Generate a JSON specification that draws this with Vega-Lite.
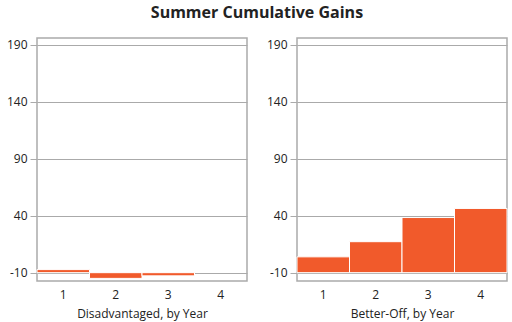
{
  "$schema": "https://vega.github.io/schema/vega-lite/v6.json",
  "padding": {"left": 5, "right": 5, "top": 5, "bottom": 3},
  "title": {"text": "Summer Cumulative Gains", "fontSize": 16, "font": "Open Sans", "fontWeight": "bold", "color": "#222", "anchor": "middle", "offset": 16},
  "datasets": {
    "gains": [
      {"group": "Disadvantaged", "year": "1", "gain": -7.3},
      {"group": "Disadvantaged", "year": "2", "gain": -15},
      {"group": "Disadvantaged", "year": "3", "gain": -12.8},
      {"group": "Better-Off", "year": "1", "gain": 3.9},
      {"group": "Better-Off", "year": "2", "gain": 17.2},
      {"group": "Better-Off", "year": "3", "gain": 38.4},
      {"group": "Better-Off", "year": "4", "gain": 46.4}
    ]
  },
  "spacing": 17,
  "hconcat": [
    {
      "width": 210, "height": 243,
      "data": {"name": "gains"},
      "transform": [{"filter": "datum.group === 'Disadvantaged'"}],
      "mark": {"type": "bar", "color": "#F15A2B", "stroke": "white", "strokeWidth": 1},
      "encoding": {
        "x": {"field": "year", "type": "ordinal", "title": "Disadvantaged, by Year", "scale": {"domain": ["1", "2", "3", "4"], "paddingInner": 0, "paddingOuter": 0}, "axis": {"labelAngle": 0, "ticks": false, "domain": false, "labelPadding": 8, "titlePadding": 8}},
        "y": {"field": "gain", "type": "quantitative", "title": null, "scale": {"domain": [-17.3, 196], "nice": false, "zero": false}, "axis": {"values": [-10, 40, 90, 140, 190], "labelExpr": "replace(datum.label, '\u2212', '-')"}},
        "y2": {"datum": -10}
      }
    },
    {
      "width": 210, "height": 243,
      "data": {"name": "gains"},
      "transform": [{"filter": "datum.group === 'Better-Off'"}],
      "mark": {"type": "bar", "color": "#F15A2B", "stroke": "white", "strokeWidth": 1},
      "encoding": {
        "x": {"field": "year", "type": "ordinal", "title": "Better-Off, by Year", "scale": {"domain": ["1", "2", "3", "4"], "paddingInner": 0, "paddingOuter": 0}, "axis": {"labelAngle": 0, "ticks": false, "domain": false, "labelPadding": 8, "titlePadding": 8}},
        "y": {"field": "gain", "type": "quantitative", "title": null, "scale": {"domain": [-17.3, 196], "nice": false, "zero": false}, "axis": {"values": [-10, 40, 90, 140, 190], "labelExpr": "replace(datum.label, '\u2212', '-')"}},
        "y2": {"datum": -10}
      }
    }
  ],
  "config": {
    "font": "Open Sans",
    "view": {"stroke": "#aaaaaa", "strokeWidth": 1.5},
    "axis": {
      "gridColor": "#aaaaaa", "gridOpacity": 1, "gridWidth": 1,
      "domainColor": "#aaaaaa", "tickColor": "#aaaaaa", "tickSize": 7,
      "labelColor": "#222222", "labelFontSize": 12, "labelFont": "Open Sans",
      "titleColor": "#222222", "titleFontSize": 12, "titleFontWeight": "normal", "titleFont": "Open Sans"
    },
    "axisY": {"domain": false, "labelPadding": 3}
  }
}
